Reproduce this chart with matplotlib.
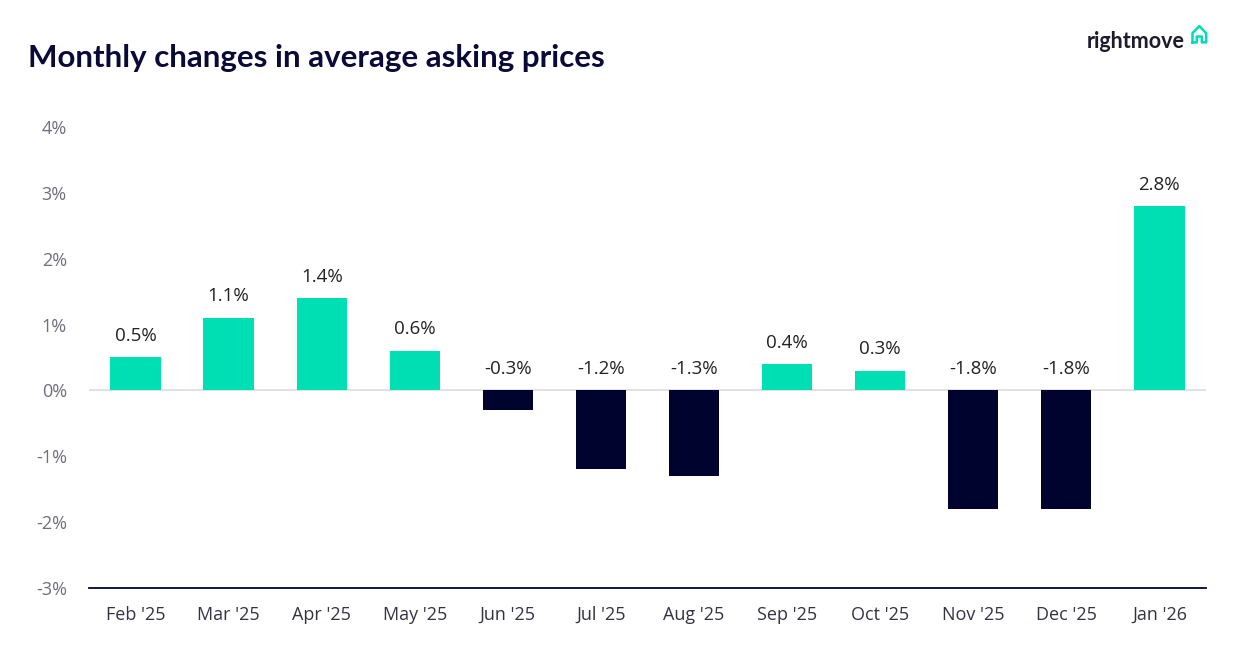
import matplotlib.pyplot as plt
from matplotlib.lines import Line2D

months = ["Feb '25", "Mar '25", "Apr '25", "May '25", "Jun '25", "Jul '25",
          "Aug '25", "Sep '25", "Oct '25", "Nov '25", "Dec '25", "Jan '26"]
changes = [0.5, 1.1, 1.4, 0.6, -0.3, -1.2, -1.3, 0.4, 0.3, -1.8, -1.8, 2.8]
y_ticks = [-3, -2, -1, 0, 1, 2, 3, 4]

TEAL = '#00deb4'
NAVY = '#00032e'
GREY = '#6e6e80'

plt.rcParams['font.family'] = ['Open Sans', 'DejaVu Sans']

fig = plt.figure(figsize=(12.48, 6.52), dpi=100)
ax = fig.add_axes([0.0713, 0.0982, 0.895, 0.707])

colors = [TEAL if v >= 0 else NAVY for v in changes]
x = range(len(months))
ax.bar(x, changes, width=0.54, color=colors, zorder=3)

for i, v in enumerate(changes):
    ax.annotate(f'{v:.1f}%', (i, max(v, 0)), xytext=(0, 9), textcoords='offset points',
                ha='center', va='bottom', fontsize=13.5, color='#222222')

ax.set_xlim(-0.5, len(months) - 0.5)
ax.set_ylim(-3, 4)
ax.set_xticks(list(x))
ax.set_xticklabels(months)
ax.set_yticks(y_ticks)
ax.set_yticklabels([f'{t}%' for t in y_ticks])
ax.axhline(0, color='#dcdcdc', lw=1.2, zorder=1)

for s in ['top', 'right', 'left']:
    ax.spines[s].set_visible(False)
ax.spines['bottom'].set_color(NAVY)
ax.spines['bottom'].set_linewidth(1.3)
ax.tick_params(axis='both', length=0, labelsize=13, colors=GREY)
ax.tick_params(axis='x', pad=13, colors='#333344')
ax.tick_params(axis='y', pad=16)

fig.text(0.0225, 0.911, 'Monthly changes in average asking prices', fontsize=22.5,
         fontweight='bold', color='#0a0a38', va='center', family=['Lato', 'DejaVu Sans'])
fig.text(0.9495, 0.936, 'rightmove', fontsize=15.5, fontweight='bold', color='#1c1c2e',
         ha='right', va='center', family=['Lato', 'DejaVu Sans'])

# small house icon next to logo
hx = [0.9555, 0.9555, 0.9610, 0.9665, 0.9665, 0.9630, 0.9630, 0.9590, 0.9590, 0.9555]
hy = [0.935, 0.949, 0.960, 0.949, 0.935, 0.935, 0.944, 0.944, 0.935, 0.935]
fig.add_artist(Line2D(hx, hy, color=TEAL, lw=1.8, solid_joinstyle='round',
                      transform=fig.transFigure))

fig.savefig('out.png', dpi=100, facecolor='white')
